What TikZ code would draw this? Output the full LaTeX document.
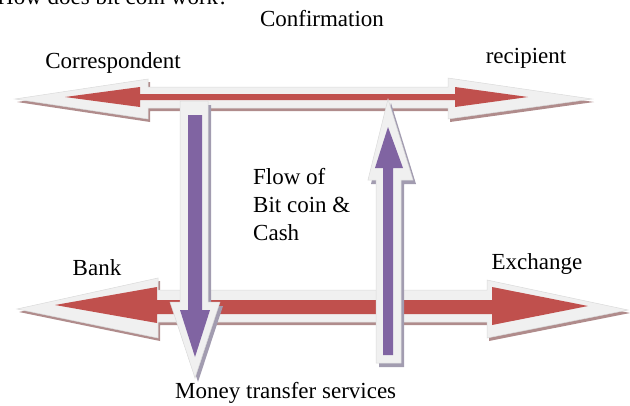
\documentclass[tikz,border=0pt]{standalone}
\usepackage{fontspec}
\setmainfont{Liberation Serif}
\definecolor{arred}{HTML}{C0504D}
\definecolor{arpur}{HTML}{8064A2}
\definecolor{argrey}{HTML}{F0F0F0}
\definecolor{aredge}{HTML}{DADADA}
\definecolor{shred}{HTML}{B08C8C}
\definecolor{shpur}{HTML}{A29CB0}
\begin{document}
\begin{tikzpicture}[x=1pt,y=-1pt,
  outer/.style={fill=argrey,draw=aredge,line width=0.5pt},
  shadowr/.style={fill=shred,shift={(2,3)}},
  shadowp/.style={fill=shpur,shift={(3,4)}},
  inred/.style={fill=arred},
  inpur/.style={fill=arpur},
  lbl/.style={inner sep=0pt,font=\fontsize{23}{28}\selectfont}]
\useasboundingbox (0,0) rectangle (630,405);
\begin{scope}
\clip (0,0) rectangle (630,405);
% title, cut off at the top
\node[lbl,anchor=base west] (title) at (-3,4) {How does bit coin work?};
% top double arrow
\fill[shadowr] (15,99) -- (148,79) -- (148,87) -- (448,87) -- (448,78) -- (592,99) -- (448,119) -- (448,108) -- (148,108) -- (148,119) -- cycle;
\filldraw[outer] (15,99) -- (148,79) -- (148,87) -- (448,87) -- (448,78) -- (592,99) -- (448,119) -- (448,108) -- (148,108) -- (148,119) -- cycle;
\fill[inred] (65,97) -- (140,87) -- (140,94) -- (455,94) -- (455,87) -- (528,97) -- (455,107) -- (455,100) -- (140,100) -- (140,107) -- cycle;
% bottom double arrow
\fill[shadowr] (17,309) -- (158,278) -- (158,290) -- (487,290) -- (487,280) -- (628,310) -- (487,338) -- (487,322) -- (158,322) -- (158,338) -- cycle;
\filldraw[outer] (17,309) -- (158,278) -- (158,290) -- (487,290) -- (487,280) -- (628,310) -- (487,338) -- (487,322) -- (158,322) -- (158,338) -- cycle;
\fill[inred] (55,305) -- (157,287) -- (157,300) -- (492,300) -- (492,287) -- (588,306) -- (492,325) -- (492,314) -- (157,314) -- (157,323) -- cycle;
% down arrow
\fill[shadowp] (180,101) -- (208,101) -- (208,302) -- (220,302) -- (195,378) -- (170,302) -- (180,302) -- cycle;
\filldraw[outer] (180,101) -- (208,101) -- (208,302) -- (220,302) -- (195,378) -- (170,302) -- (180,302) -- cycle;
\fill[inpur] (188,115) -- (202,115) -- (202,310) -- (210,310) -- (195,357) -- (180,310) -- (188,310) -- cycle;
% up arrow
\fill[shadowp] (388,99) -- (413,180) -- (401,180) -- (401,363) -- (376,363) -- (376,180) -- (368,180) -- cycle;
\filldraw[outer] (388,99) -- (413,180) -- (401,180) -- (401,363) -- (376,363) -- (376,180) -- (368,180) -- cycle;
\fill[inpur] (388,127) -- (403,168) -- (393,168) -- (393,355) -- (383,355) -- (383,168) -- (375,168) -- cycle;
\end{scope}
% labels
\node[lbl,anchor=base] (conf) at (322,26) {Confirmation};
\node[lbl,anchor=base] (corr) at (113,68) {Correspondent};
\node[lbl,anchor=base] (reci) at (526,63) {recipient};
\node[lbl,anchor=base] (bank) at (97,275) {Bank};
\node[lbl,anchor=base] (exch) at (537,269) {Exchange};
\node[lbl,anchor=base west] (mts) at (175,398) {Money transfer services};
\node[lbl,anchor=base west,align=left] (flow) at (253,240) {Flow of\\Bit coin \&\\Cash};
\end{tikzpicture}
\end{document}
